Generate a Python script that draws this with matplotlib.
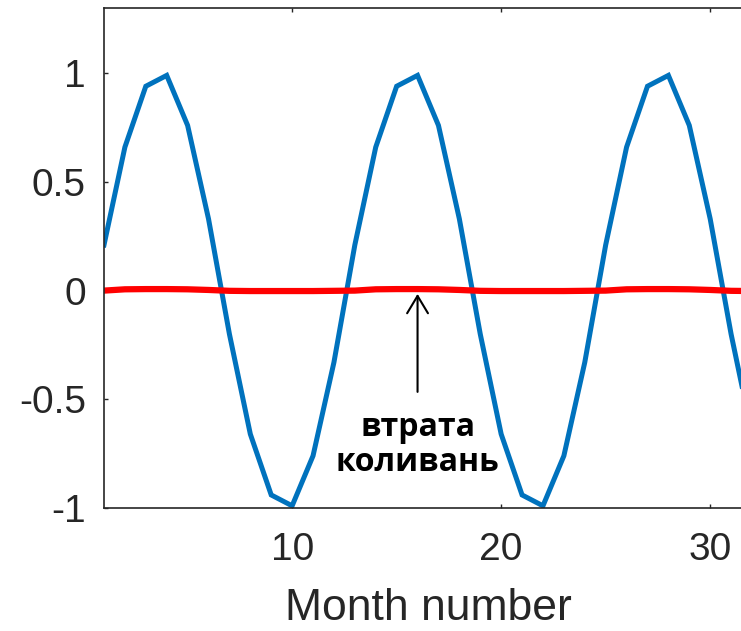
import matplotlib
matplotlib.use("Agg")
import matplotlib.pyplot as plt

# місяці 1..32
months = list(range(1, 33))

# синусоїда з періодом 12 місяців
oscillation = [0.21, 0.66, 0.94, 0.99, 0.76, 0.33, -0.20, -0.66, -0.94, -0.99, -0.76, -0.33,
               0.21, 0.66, 0.94, 0.99, 0.76, 0.33, -0.20, -0.66, -0.94, -0.99, -0.76, -0.33,
               0.21, 0.66, 0.94, 0.99, 0.76, 0.33, -0.20, -0.66]

# майже нульовий сигнал (втрата коливань)
flat = [0.0, 0.006, 0.007, 0.007, 0.006, 0.003, -0.001, -0.002, -0.002, -0.002, -0.002, -0.001,
        0.0, 0.006, 0.007, 0.007, 0.006, 0.003, -0.001, -0.002, -0.002, -0.002, -0.002, -0.001,
        0.0, 0.006, 0.007, 0.007, 0.006, 0.003, -0.001, -0.002]

x_ticks = [10, 20, 30]
y_ticks = [-1, -0.5, 0, 0.5, 1]
y_tick_labels = ["-1", "-0.5", "0", "0.5", "1"]

W, H = 741, 631
fig = plt.figure(figsize=(W / 100, H / 100), dpi=100)
ax = fig.add_axes([104 / W, 123 / H, 648 / W, 500 / H])

ax.plot(months, oscillation, color="#0072BD", linewidth=3.6, solid_joinstyle="miter")
ax.plot(months, flat, color="#FF0000", linewidth=4.5)

ax.set_xlim(1, 32)
ax.set_ylim(-1, 1.3)
ax.set_xticks(x_ticks)
ax.set_yticks(y_ticks)
ax.set_yticklabels(y_tick_labels)

gray = "#262626"
for s in ax.spines.values():
    s.set_color(gray)
    s.set_linewidth(1.2)
ax.tick_params(direction="in", length=3, width=1, colors=gray,
               labelsize=28, top=True, right=True)
ax.tick_params(axis="y", pad=13)
ax.tick_params(axis="x", pad=17)
for lab in ax.get_xticklabels() + ax.get_yticklabels():
    lab.set_fontfamily("Liberation Sans")

ax.set_xlabel("Month number", fontsize=32, fontfamily="Liberation Sans",
              color=gray, labelpad=15)

ax.annotate("втрата\nколивань", xy=(16, -0.015), xytext=(16, -0.71),
            ha="center", va="center", fontsize=23, fontweight="bold",
            fontfamily="Open Sans", linespacing=1.05,
            arrowprops=dict(arrowstyle="->,head_length=0.5,head_width=0.3",
                            color="black", lw=1.5,
                            mutation_scale=25, shrinkA=12, shrinkB=0))

fig.savefig("out.png", dpi=100)
